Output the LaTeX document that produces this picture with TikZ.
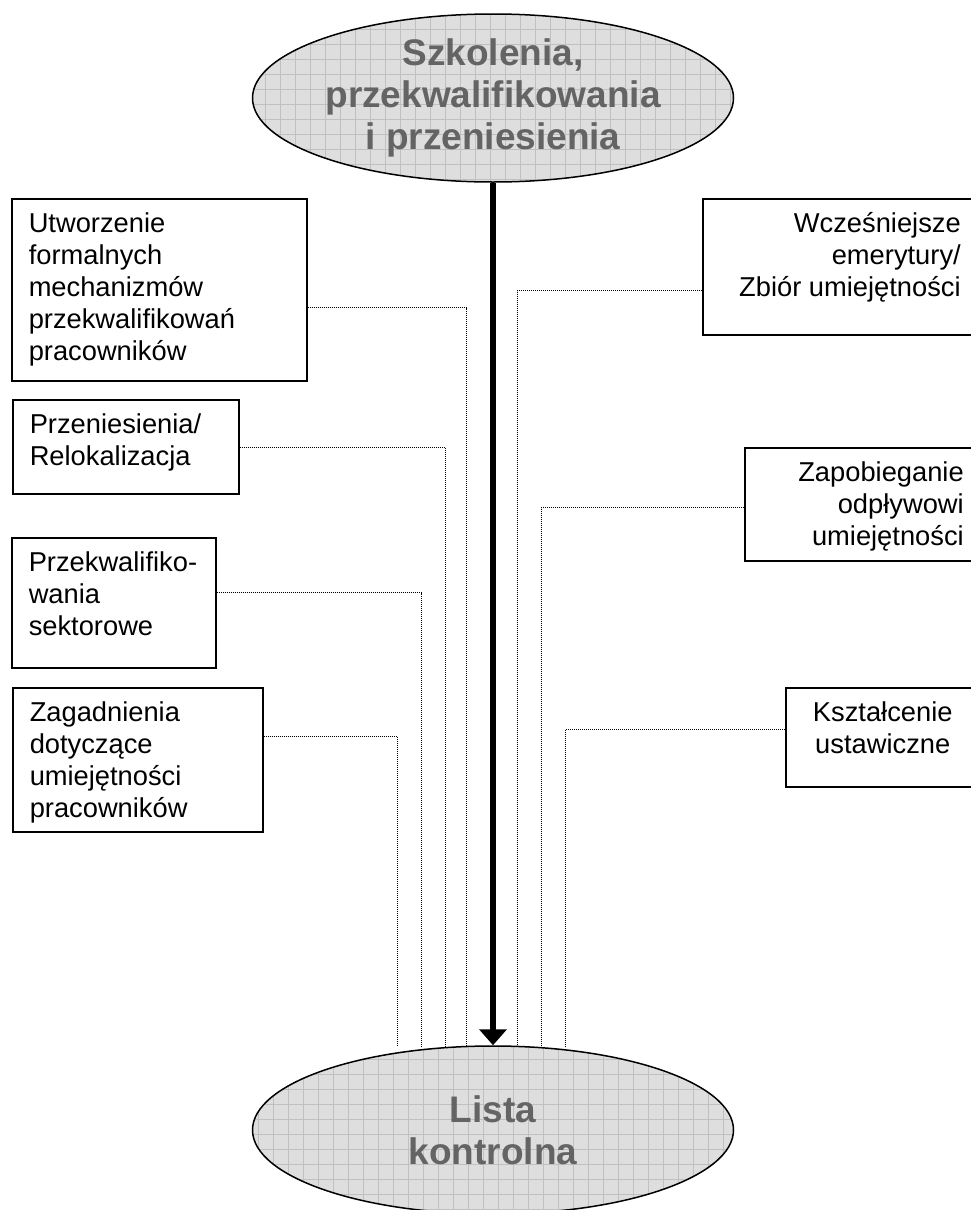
\documentclass[tikz,border=0pt]{standalone}
\usepackage{fontspec}
\setmainfont{Liberation Sans}
\usetikzlibrary{positioning,shapes.geometric,arrows.meta}
\definecolor{ovalfill}{RGB}{222,222,222}
\definecolor{ovalgrid}{RGB}{192,192,192}
\definecolor{ovaltext}{RGB}{100,100,100}
\newcommand{\boxtxt}[4]{\parbox[t][#2pt][t]{#1pt}{#3\strut #4}}

\begin{document}
\begin{tikzpicture}[x=1pt, y=-1pt,
    itembox/.style={draw, line width=1.5pt, inner xsep=17pt, inner ysep=11.6pt, anchor=north west, font=\fontsize{27.3}{32}\selectfont},
    oval/.style={ellipse, draw, line width=1.5pt, fill=ovalfill, inner sep=0pt, minimum width=481pt, minimum height=168pt,
        align=center, text=ovaltext, font=\fontsize{37}{42}\selectfont\bfseries,
        path picture={\draw[ovalgrid, line width=0.8pt] (path picture bounding box.south west) grid[step=15pt] (path picture bounding box.north east);}},
    conn/.style={densely dotted, line width=1pt},
    mainarrow/.style={line width=6pt, -{Triangle[width=27pt,length=16pt]}}]
        \useasboundingbox (0,0) rectangle (970,1210);

        % Ovals
        \node[oval] (szk) at (493,98) {Szkolenia,\\przekwalifikowania\\i przeniesienia};
        \node[oval] (lista) at (493,1130) {Lista\\kontrolna};

        % Left boxes
        \node[itembox] (utw) at (11,198) {\boxtxt{261}{158.8}{\raggedright}{Utworzenie\\ formalnych\\ mechanizmów\\ przekwalifikowań\\ pracowników}};
        \node[itembox] (prz) at (12,399) {\boxtxt{192}{70.8}{\raggedright}{Przeniesienia/\\ Relokalizacja}};
        \node[itembox] (sek) at (11,537) {\boxtxt{170}{106.8}{\raggedright}{Przekwalifiko-\\ wania\\ sektorowe}};
        \node[itembox] (zag) at (12,687) {\boxtxt{216}{120.8}{\raggedright}{Zagadnienia\\ dotyczące\\ umiejętności\\ pracowników}};

        % Right boxes
        \node[itembox] (wcz) at (702,198) {\boxtxt{241}{112.8}{\raggedleft}{Wcześniejsze\\ emerytury/\\ Zbiór umiejętności}};
        \node[itembox] (zap) at (744,447) {\boxtxt{202}{89.8}{\raggedleft}{Zapobieganie\\ odpływowi\\ umiejętności}};
        \node[itembox] (ksz) at (785,687) {\boxtxt{160}{75.8}{\centering}{Kształcenie\\ ustawiczne}};

        % Main arrow
        \draw[mainarrow] (szk.south) -- (lista.north);

        % Dotted connectors
        \coordinate (utw-in) at (466,1047);
        \coordinate (prz-in) at (445,1047);
        \coordinate (sek-in) at (421,1047);
        \coordinate (zag-in) at (397,1047);
        \coordinate (wcz-in) at (517,1047);
        \coordinate (zap-in) at (541,1047);
        \coordinate (ksz-in) at (565,1047);
        \draw[conn] ([yshift=-18pt]utw.east) -| (utw-in);
        \draw[conn] ([yshift=-1pt]prz.east) -| (prz-in);
        \draw[conn] ([yshift=10pt]sek.east) -| (sek-in);
        \draw[conn] ([yshift=23pt]zag.east) -| (zag-in);
        \draw[conn] ([yshift=-24pt]wcz.west) -| (wcz-in);
        \draw[conn] ([yshift=-3.5pt]zap.west) -| (zap-in);
        \draw[conn] ([yshift=7.5pt]ksz.west) -| (ksz-in);
    \end{tikzpicture}
\end{document}
